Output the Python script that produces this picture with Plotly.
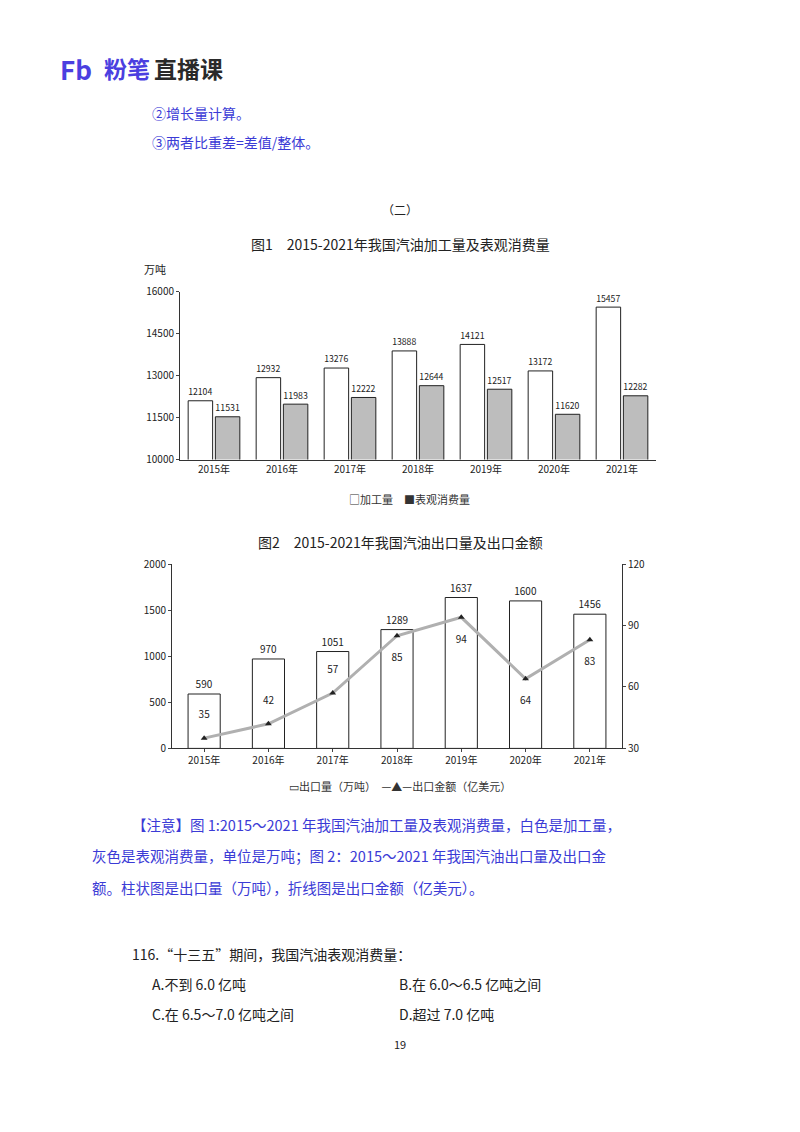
import plotly.graph_objects as go

years = ["2015年","2016年","2017年","2018年","2019年","2020年","2021年"]
proc = [12104,12932,13276,13888,14121,13172,15457]
cons = [11531,11983,12222,12644,12517,11620,12282]
exp_vol = [590,970,1051,1289,1637,1600,1456]
exp_val = [35,42,57,85,94,64,83]
val_pos = ["top center","top center","top center","bottom center","bottom center","bottom center","bottom center"]

W, H = 800, 1132
def py(p): return 1 - p/H
def px(p): return p/W

F = "Noto Sans CJK SC"
fig = go.Figure()
fig.add_trace(go.Bar(x=years, y=proc, name="加工量", marker=dict(color="white", line=dict(color="#222", width=1)),
                     text=proc, textposition="outside", textfont=dict(size=10, color="#222"), cliponaxis=False, xaxis="x", yaxis="y", showlegend=False))
fig.add_trace(go.Bar(x=years, y=cons, name="表观消费量", marker=dict(color="#bdbdbd", line=dict(color="#222", width=1)),
                     text=cons, textposition="outside", textfont=dict(size=10, color="#222"), cliponaxis=False, xaxis="x", yaxis="y", showlegend=False))
fig.add_trace(go.Bar(x=years, y=exp_vol, marker=dict(color="white", line=dict(color="#222", width=1)), width=0.5,
                     text=exp_vol, textposition="outside", textfont=dict(size=10, color="#222"), cliponaxis=False, xaxis="x2", yaxis="y2", showlegend=False))
fig.add_trace(go.Scatter(x=years, y=exp_val, mode="lines+markers+text", line=dict(color="#b0b0b0", width=3),
                         marker=dict(symbol="triangle-up", size=6, color="#222"), text=[f"<br>{v}<br>" for v in exp_val],
                         textposition=val_pos, textfont=dict(size=10, color="#222"), cliponaxis=False, xaxis="x2", yaxis="y3", showlegend=False))

ax = dict(showgrid=False, linecolor="#333", linewidth=1, tickfont=dict(size=10, color="#222", family=F), ticks="outside", ticklen=3, tickformat="d")
fig.update_layout(
    width=W, height=H, margin=dict(l=0, r=0, t=0, b=0), paper_bgcolor="white", plot_bgcolor="white",
    font=dict(family=F), barmode="group", bargap=0.2, bargroupgap=0.1,
    xaxis=dict(ax, domain=[px(180), px(656)], anchor="y", ticks=""),
    yaxis=dict(ax, domain=[py(457), py(287)], range=[10000,16000], tickvals=[10000,11500,13000,14500,16000], anchor="x"),
    xaxis2=dict(ax, domain=[px(172), px(622)], anchor="y2"),
    yaxis2=dict(ax, domain=[py(750), py(563)], range=[0,2000], tickvals=[0,500,1000,1500,2000], anchor="x2"),
    yaxis3=dict(ax, overlaying="y2", side="right", range=[30,120], tickvals=[30,60,90,120], anchor="x2"),
)

def ann(x, y, t, size=13, color="#222", xanchor="left", **kw):
    fig.add_annotation(x=px(x), y=py(y), xref="paper", yref="paper", text=t, showarrow=False,
                       xanchor=xanchor, yanchor="middle", font=dict(size=size, color=color, family=F), **kw)

ann(58, 60, "<b>Fb</b>", size=26, color="#4b3fe0")
ann(102, 60, "<b>粉笔</b>", size=23, color="#4b3fe0")
ann(152, 60, "<b>直播课</b>", size=23, color="#2a2a2a")
blue = "#3b3bd6"
ann(150, 105, "②增长量计算。", size=14, color=blue)
ann(150, 135, "③两者比重差=差值/整体。", size=14, color=blue)
ann(400, 203, "（二）", size=12, xanchor="center")
ann(400, 238, "图1　2015-2021年我国汽油加工量及表观消费量", size=14, xanchor="center")
ann(142, 264, "万吨", size=11)
ann(410, 497, "□加工量　■表观消费量", size=11, xanchor="center", color="#333")
ann(400, 541, "图2　2015-2021年我国汽油出口量及出口金额", size=14, xanchor="center")
ann(400, 788, "▭出口量（万吨）　—▲—出口金额（亿美元）", size=11, xanchor="center", color="#333")
ann(130, 827, "【注意】图 1:2015～2021 年我国汽油加工量及表观消费量，白色是加工量，", size=14.5, color=blue)
ann(90, 859, "灰色是表观消费量，单位是万吨；图 2：2015～2021 年我国汽油出口量及出口金", size=14.5, color=blue)
ann(90, 891, "额。柱状图是出口量（万吨），折线图是出口金额（亿美元）。", size=14.5, color=blue)
ann(130, 959, "116.“十三五”期间，我国汽油表观消费量：", size=14)
ann(150, 989, "A.不到 6.0 亿吨", size=14)
ann(397, 989, "B.在 6.0～6.5 亿吨之间", size=14)
ann(150, 1019, "C.在 6.5～7.0 亿吨之间", size=14)
ann(397, 1019, "D.超过 7.0 亿吨", size=14)
ann(400, 1050, "19", size=11, xanchor="center")

fig.write_html("out.html", config={"displayModeBar": False})
with open("out.html", encoding="utf-8") as f:
    html = f.read()
html = html.replace("<head>", "<head><style>html,body{margin:0;padding:0;overflow:hidden}</style>", 1)
with open("out.html", "w", encoding="utf-8") as f:
    f.write(html)
